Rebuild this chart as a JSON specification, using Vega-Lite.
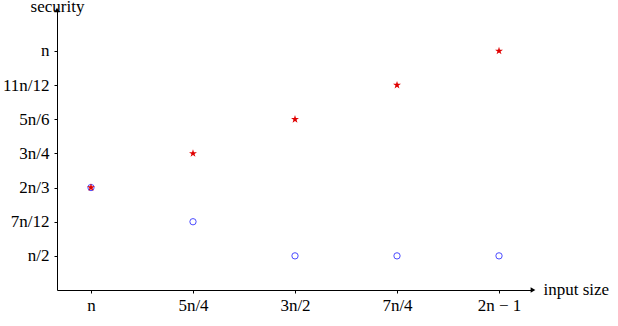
{
  "$schema": "https://vega.github.io/schema/vega-lite/v6.json",
  "width": 476,
  "height": 280,
  "autosize": {"type": "none"},
  "padding": {"left": 57, "top": 10, "right": 85, "bottom": 36},
  "background": "white",
  "config": {
    "view": {"stroke": null},
    "font": "Liberation Serif",
    "axis": {
      "grid": false,
      "domainColor": "black",
      "domainWidth": 1,
      "tickColor": "black",
      "tickSize": 3,
      "labelFont": "Liberation Serif",
      "labelFontSize": 17,
      "labelColor": "black",
      "titleFont": "Liberation Serif",
      "titleFontSize": 17,
      "titleFontWeight": "normal",
      "titleColor": "black"
    }
  },
  "resolve": {"axis": {"x": "independent", "y": "independent"}},
  "data": {
    "values": [
      {"input": 1, "security": 0.6667, "series": "star"},
      {"input": 1.25, "security": 0.75, "series": "star"},
      {"input": 1.5, "security": 0.8333, "series": "star"},
      {"input": 1.75, "security": 0.9167, "series": "star"},
      {"input": 2, "security": 1, "series": "star"},
      {"input": 1, "security": 0.6667, "series": "circle"},
      {"input": 1.25, "security": 0.5833, "series": "circle"},
      {"input": 1.5, "security": 0.5, "series": "circle"},
      {"input": 1.75, "security": 0.5, "series": "circle"},
      {"input": 2, "security": 0.5, "series": "circle"}
    ]
  },
  "layer": [
    {
      "transform": [{"filter": "datum.series == 'circle'"}],
      "mark": {"type": "point", "shape": "circle", "filled": false, "color": "#0000ff", "strokeWidth": 1, "size": 40},
      "encoding": {
        "x": {
          "field": "input",
          "type": "quantitative",
          "scale": {"domain": [0.9167, 2.0833], "nice": false, "zero": false},
          "axis": {
            "orient": "bottom",
            "values": [1, 1.25, 1.5, 1.75, 2],
            "labelExpr": "['n','5n/4','3n/2','7n/4','2n − 1'][round((datum.value-1)*4)]",
            "labelPadding": 4,
            "title": "input size",
            "titleAnchor": null,
            "titleAlign": "left",
            "titleBaseline": "alphabetic",
            "titleX": 486,
            "titleY": 4
          }
        },
        "y": {
          "field": "security",
          "type": "quantitative",
          "scale": {"domain": [0.4167, 1.1], "nice": false, "zero": false},
          "axis": {
            "orient": "left",
            "values": [0.5, 0.58333, 0.66667, 0.75, 0.83333, 0.91667, 1],
            "labelExpr": "['','','','','','','n/2','7n/12','2n/3','3n/4','5n/6','11n/12','n'][round(datum.value*12)]",
            "labelPadding": 5,
            "title": "security",
            "titleAngle": 0,
            "titleAlign": "center",
            "titleBaseline": "alphabetic",
            "titleX": 0,
            "titleY": 1
          }
        }
      }
    },
    {
      "transform": [{"filter": "datum.series == 'star'"}],
      "mark": {"type": "point", "shape": "M0,-1L0.2245,-0.309L0.9511,-0.309L0.3633,0.118L0.5878,0.809L0,0.382L-0.5878,0.809L-0.3633,0.118L-0.9511,-0.309L-0.2245,-0.309Z", "filled": true, "color": "#e00000", "size": 70, "opacity": 1},
      "encoding": {
        "x": {"field": "input", "type": "quantitative", "axis": null},
        "y": {"field": "security", "type": "quantitative", "axis": null}
      }
    },
    {
      "data": {"values": [{}]},
      "mark": {"type": "point", "shape": "triangle-right", "filled": true, "color": "black", "size": 30, "opacity": 1},
      "encoding": {"x": {"datum": 2.0833, "type": "quantitative", "axis": null}, "y": {"datum": 0.4167, "type": "quantitative", "axis": null}}
    },
    {
      "data": {"values": [{}]},
      "mark": {"type": "point", "shape": "triangle-up", "filled": true, "color": "black", "size": 30, "opacity": 1},
      "encoding": {"x": {"datum": 0.9167, "type": "quantitative", "axis": null}, "y": {"datum": 1.1, "type": "quantitative", "axis": null}}
    }
  ]
}
